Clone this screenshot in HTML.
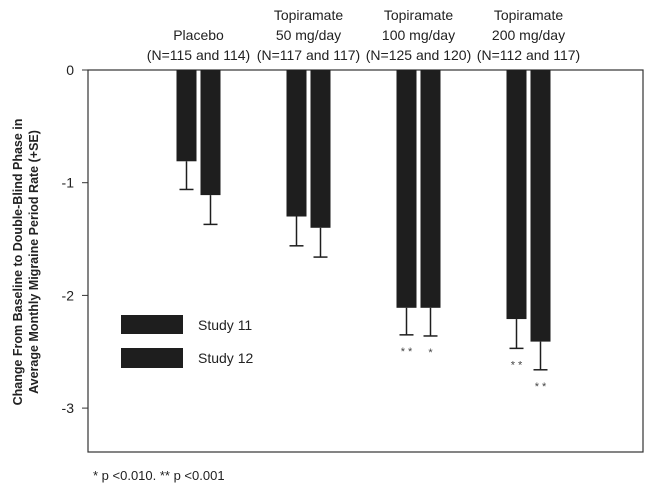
<!DOCTYPE html>
<html><head><meta charset="utf-8"><style>
body{margin:0;background:#fff;}
svg{display:block;font-family:"Liberation Sans Narrow","Liberation Sans",sans-serif;}
</style></head><body>
<svg width="648" height="491" viewBox="0 0 648 491">
<g id="chart"></g>
</svg>
<script>
const groups=["Placebo","Topiramate 50 mg/day","Topiramate 100 mg/day","Topiramate 200 mg/day"];
const groupLine1=["","Topiramate","Topiramate","Topiramate"];
const groupLine2=["Placebo","50 mg/day","100 mg/day","200 mg/day"];
const groupN=["(N=115 and 114)","(N=117 and 117)","(N=125 and 120)","(N=112 and 117)"];
const study11=[-0.81,-1.3,-2.11,-2.21];
const study12=[-1.11,-1.4,-2.11,-2.41];
const se11=[0.25,0.26,0.24,0.26];
const se12=[0.26,0.26,0.25,0.25];
const stars11=["","","* *","* *"];
const stars12=["","","*","* *"];
const yTicks=[0,-1,-2,-3];
const NS="http://www.w3.org/2000/svg";
const g=document.getElementById('chart');
const L=88,R=643,T=70,B=452;
const y=v=>T+(-v)*112.7;
const gx=i=>198.5+i*110;
function el(t,a,txt){const e=document.createElementNS(NS,t);for(const k in a)e.setAttribute(k,a[k]);if(txt!==undefined)e.textContent=txt;g.appendChild(e);return e;}
let e=el('rect',{x:L,y:T,width:R-L,height:B-T,fill:'none',stroke:'#333','stroke-width':1.2});


yTicks.forEach(t=>{
 let l=el('line',{x1:L-6,x2:L,y1:y(t),y2:y(t),stroke:'#333'});
 
 
 let tx=el('text',{x:L-14,y:y(t)+5,'text-anchor':'end','font-size':14,fill:'#222'},t===0?'0':String(t));
 
 
});
groups.forEach((name,i)=>{
 const c=gx(i);
 const lines=[groupLine1[i],groupLine2[i],groupN[i]].filter(s=>s);
 lines.forEach((s,j)=>{
  let t=el('text',{x:c,y:60-(lines.length-1-j)*20,'text-anchor':'middle','font-size':14,fill:'#222'},s);
  
  
 });
 [[study11,se11,stars11,-22],[study12,se12,stars12,2]].forEach(([vals,se,st,off],k)=>{
  const x0=c+off, w=20, v=vals[i];
  let b=el('rect',{x:x0,y:T,width:w,height:y(v)-T,fill:'#1e1e1e'});
  
  
  const ye=y(v-se[i]);
  let ln=el('line',{x1:x0+w/2,x2:x0+w/2,y1:y(v),y2:ye,stroke:'#1e1e1e','stroke-width':1.5});
  
  
  let cp=el('line',{x1:x0+w/2-7,x2:x0+w/2+7,y1:ye,y2:ye,stroke:'#1e1e1e','stroke-width':1.5});
  
  
  if(st[i]){
   let s=el('text',{x:x0+w/2,y:ye+20,'text-anchor':'middle','font-size':11,fill:'#444'},st[i]);
   
   
  }
 });
});
</script>
<svg width="648" height="491" style="position:absolute;left:0;top:0">
<text x="0" y="0" transform="translate(22,262) rotate(-90)" text-anchor="middle" font-family="Liberation Sans,sans-serif" font-weight="bold" font-size="12.5" fill="#222">Change From Baseline to Double-Blind Phase in</text>
<text x="0" y="0" transform="translate(38,262) rotate(-90)" text-anchor="middle" font-family="Liberation Sans,sans-serif" font-weight="bold" font-size="12.5" fill="#222">Average Monthly Migraine Period Rate (+SE)</text>
<rect x="121" y="315" width="62" height="19" fill="#1e1e1e"/>
<text x="198" y="330" font-size="14" fill="#222" font-family="Liberation Sans Narrow,Liberation Sans,sans-serif">Study 11</text>
<rect x="121" y="348" width="62" height="20" fill="#1e1e1e"/>
<text x="198" y="363" font-size="14" fill="#222" font-family="Liberation Sans Narrow,Liberation Sans,sans-serif">Study 12</text>
<text x="93" y="480" font-size="13" fill="#222" font-family="Liberation Sans Narrow,Liberation Sans,sans-serif">* p &lt;0.010. ** p &lt;0.001</text>
</svg>
</body></html>
